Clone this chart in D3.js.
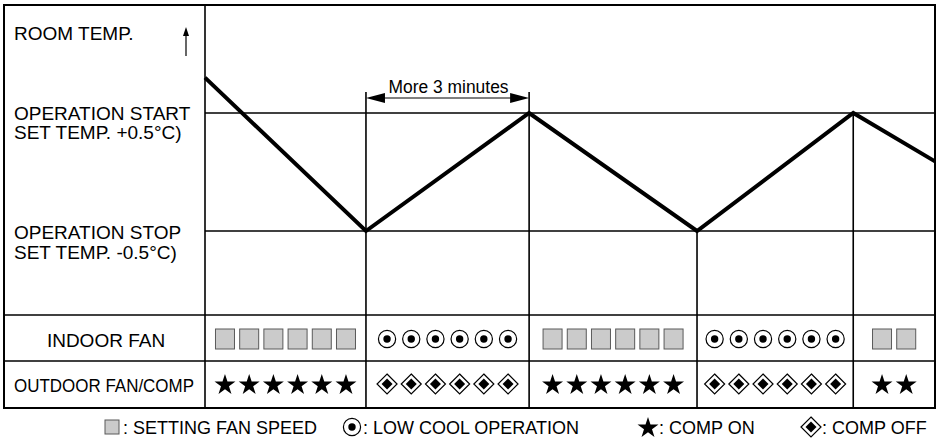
<!DOCTYPE html>
<html>
<head>
<meta charset="utf-8">
<script src="https://cdn.jsdelivr.net/npm/d3@7"></script>
<style>
  body { margin: 0; background: #fff; }
  svg { display: block; }
  text { font-family: "Liberation Sans", Arial, sans-serif; fill: #000; }
</style>
</head>
<body>
<svg id="chart" width="941" height="442"></svg>
<script>
// phase boundaries along the time axis (arbitrary units) and room temp at each turn (°C from set temp)
const phaseTimes = [0, 22.05, 44.4, 67.4, 88.8, 100];
const tempValues = [0.8, -0.5, 0.5, -0.5, 0.5, 0.09];
const setLevels = [0.5, -0.5];
const levelLabels = [
  ["OPERATION START", "SET TEMP. +0.5°C)"],
  ["OPERATION STOP", "SET TEMP. -0.5°C)"]
];
const indoorModes = ["fan", "low", "fan", "low", "fan"];
const outdoorModes = ["on", "off", "on", "off", "on"];
const symbolCounts = [6, 6, 6, 6, 2];
const rowLabels = ["INDOOR FAN", "OUTDOOR FAN/COMP"];
const legendKeys = ["fan", "low", "on", "off"];
const legendLabels = [": SETTING FAN SPEED", ": LOW COOL OPERATION", ": COMP ON", ": COMP OFF"];
const bracketLabel = "More 3 minutes";

const svg = d3.select("#chart");
const frameLeft = 4, frameTop = 5, frameRight = 935, frameBottom = 408;
const divX = 205;
const chartBottom = 315, rowSplit = 361;

const x = d3.scaleLinear().domain([0, 100]).range([divX, frameRight]);
const y = d3.scaleLinear().domain([-0.5, 0.5]).range([231, 113]);

// outer frame
svg.append("rect")
  .attr("x", frameLeft).attr("y", frameTop)
  .attr("width", frameRight - frameLeft).attr("height", frameBottom - frameTop)
  .attr("fill", "none").attr("stroke", "#000").attr("stroke-width", 2);

// row separators and left column divider
svg.selectAll("line.row")
  .data([chartBottom, rowSplit])
  .join("line")
  .attr("x1", frameLeft).attr("x2", frameRight)
  .attr("y1", d => d).attr("y2", d => d)
  .attr("stroke", "#000").attr("stroke-width", 1.6);

svg.append("line")
  .attr("x1", divX).attr("x2", divX)
  .attr("y1", frameTop).attr("y2", frameBottom)
  .attr("stroke", "#000").attr("stroke-width", 1.6);

// set temperature levels
svg.selectAll("line.level")
  .data(setLevels)
  .join("line")
  .attr("x1", divX).attr("x2", frameRight)
  .attr("y1", d => y(d)).attr("y2", d => y(d))
  .attr("stroke", "#000").attr("stroke-width", 1.5);

// phase boundaries (skip first and last)
const bounds = phaseTimes.slice(1, -1).map((t, i) => ({ t, v: tempValues[i + 1], i }));
svg.selectAll("line.bound")
  .data(bounds)
  .join("line")
  .attr("x1", d => x(d.t)).attr("x2", d => x(d.t))
  .attr("y1", d => (d.i < 2 ? 92 : y(d.v)))
  .attr("y2", frameBottom)
  .attr("stroke", "#000").attr("stroke-width", 1.6);

// room temperature line
svg.append("path")
  .datum(phaseTimes.map((t, i) => [t, tempValues[i]]))
  .attr("fill", "none").attr("stroke", "#000").attr("stroke-width", 4)
  .attr("stroke-linejoin", "miter")
  .attr("d", d3.line().x(d => x(d[0])).y(d => y(d[1])));

// "More 3 minutes" bracket
const bx1 = x(phaseTimes[1]), bx2 = x(phaseTimes[2]), by = 98;
svg.append("line")
  .attr("x1", bx1 + 10).attr("x2", bx2 - 10)
  .attr("y1", by).attr("y2", by)
  .attr("stroke", "#000").attr("stroke-width", 1);
svg.append("path")
  .attr("d", `M${bx1},${by}L${bx1 + 19},${by - 5}L${bx1 + 19},${by + 5}Z`
    + `M${bx2},${by}L${bx2 - 19},${by - 5}L${bx2 - 19},${by + 5}Z`)
  .attr("fill", "#000");
svg.append("text")
  .attr("x", (bx1 + bx2) / 2 + 1).attr("y", 93)
  .attr("text-anchor", "middle")
  .attr("font-size", "18px")
  .attr("textLength", 120).attr("lengthAdjust", "spacingAndGlyphs")
  .text(bracketLabel);

// left labels
svg.append("text")
  .attr("x", 14).attr("y", 40)
  .attr("font-size", "19px")
  .text("ROOM TEMP.");
svg.append("line")
  .attr("x1", 186).attr("x2", 186).attr("y1", 34).attr("y2", 56)
  .attr("stroke", "#000").attr("stroke-width", 1.2);
svg.append("path")
  .attr("d", "M186,27L183,36L189,36Z").attr("fill", "#000");

levelLabels.forEach((lines, k) => {
  const base = y(setLevels[k]) + (k === 0 ? 7 : 8);
  const gap = k === 0 ? 19 : 20;
  lines.forEach((s, j) => {
    svg.append("text")
      .attr("x", 14).attr("y", base + j * gap)
      .attr("font-size", "19px")
      .text(s);
  });
});

svg.append("text")
  .attr("x", 106).attr("y", 347)
  .attr("text-anchor", "middle")
  .attr("font-size", "19px")
  .text(rowLabels[0]);
svg.append("text")
  .attr("x", 104).attr("y", 392)
  .attr("text-anchor", "middle")
  .attr("font-size", "19px")
  .attr("textLength", 180).attr("lengthAdjust", "spacingAndGlyphs")
  .text(rowLabels[1]);

// icon drawing
const starPath = d3.symbol(d3.symbolStar, 136)();
function drawIcon(g, kind, cx, cy) {
  if (kind === "fan") {
    g.append("rect")
      .attr("x", cx - 9.5).attr("y", cy - 10)
      .attr("width", 19).attr("height", 20)
      .attr("fill", "#cbcbcb").attr("stroke", "#5a5a5a").attr("stroke-width", 1);
  } else if (kind === "low") {
    g.append("circle").attr("cx", cx).attr("cy", cy).attr("r", 8.6)
      .attr("fill", "#fff").attr("stroke", "#000").attr("stroke-width", 1.2);
    g.append("circle").attr("cx", cx).attr("cy", cy).attr("r", 3.7)
      .attr("fill", "#000");
  } else if (kind === "on") {
    g.append("path").attr("d", starPath)
      .attr("transform", `translate(${cx},${cy + 1})`)
      .attr("fill", "#000");
  } else {
    g.append("path")
      .attr("d", `M${cx},${cy - 10}L${cx + 10},${cy}L${cx},${cy + 10}L${cx - 10},${cy}Z`)
      .attr("fill", "#fff").attr("stroke", "#000").attr("stroke-width", 1.2);
    g.append("path")
      .attr("d", `M${cx},${cy - 5.5}L${cx + 5.5},${cy}L${cx},${cy + 5.5}L${cx - 5.5},${cy}Z`)
      .attr("fill", "#000");
  }
}

const pitch = 24.2;
const icons = svg.append("g");
symbolCounts.forEach((n, p) => {
  const cx0 = (x(phaseTimes[p]) + x(phaseTimes[p + 1])) / 2;
  for (let i = 0; i < n; i++) {
    const cx = cx0 + (i - (n - 1) / 2) * pitch;
    drawIcon(icons, indoorModes[p], cx, 339);
    drawIcon(icons, outdoorModes[p], cx, 384);
  }
});

// legend
const legendX = [112, 352, 648, 811];
const legend = svg.append("g");
legendKeys.forEach((k, i) => {
  if (k === "fan") {
    legend.append("rect")
      .attr("x", legendX[i] - 7).attr("y", 420)
      .attr("width", 14).attr("height", 14)
      .attr("fill", "#cbcbcb").attr("stroke", "#5a5a5a").attr("stroke-width", 1);
  } else {
    drawIcon(legend, k, legendX[i], 427);
  }
  legend.append("text")
    .attr("x", legendX[i] + 11).attr("y", 434)
    .attr("font-size", "18px")
    .text(legendLabels[i]);
});
</script>
</body>
</html>
